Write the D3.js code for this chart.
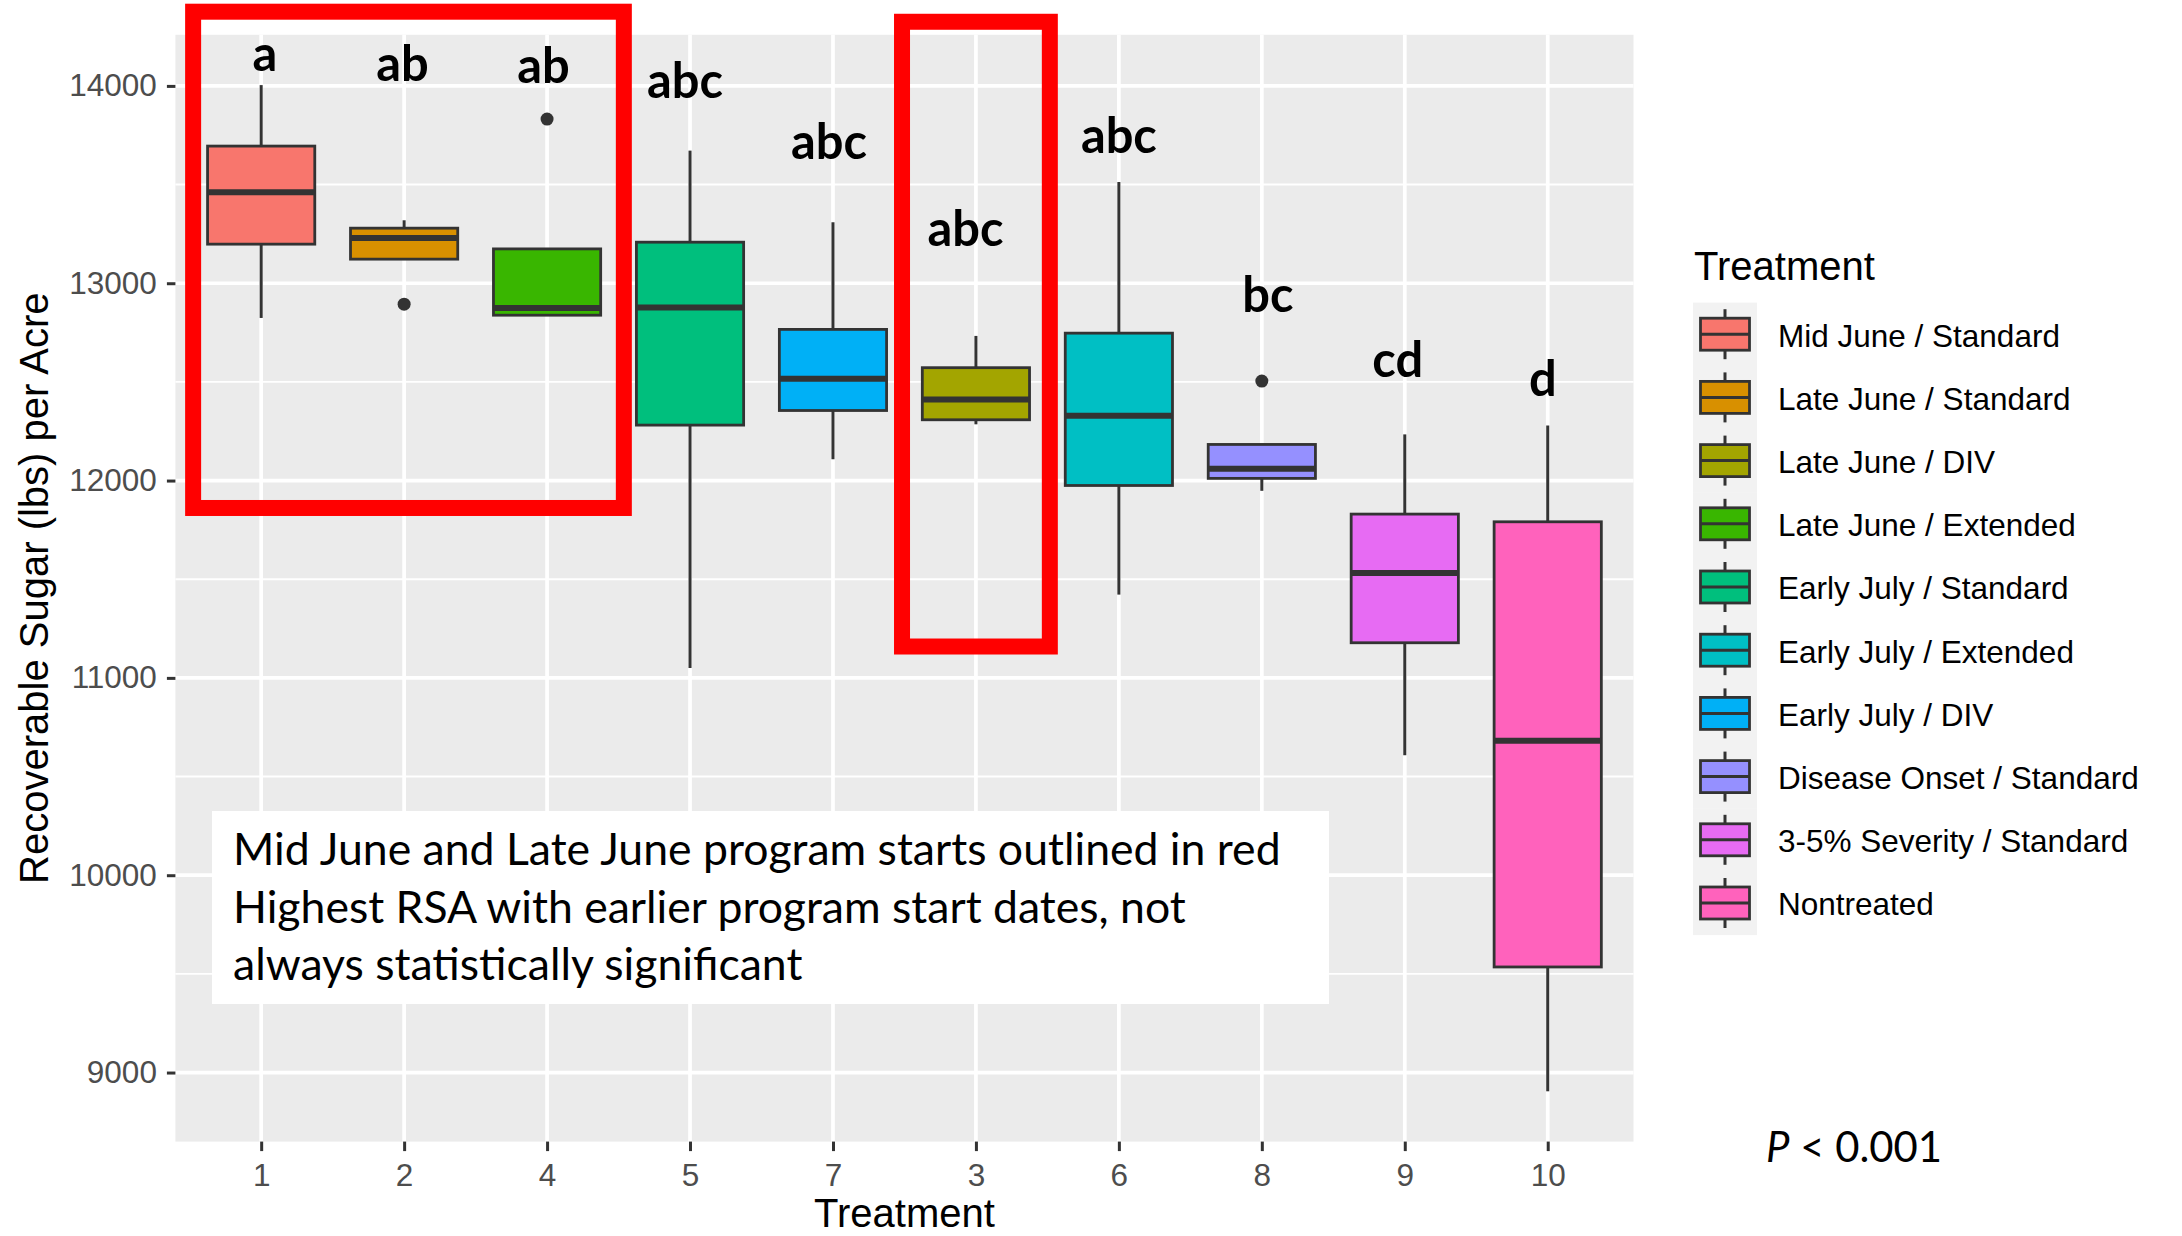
<!DOCTYPE html>
<html>
<head>
<meta charset="utf-8">
<script src="https://cdnjs.cloudflare.com/ajax/libs/d3/7.8.5/d3.min.js"></script>
<style>
  html, body { margin: 0; padding: 0; background: #fff; }
  svg { display: block; }
</style>
</head>
<body>
<svg id="chart" width="2182" height="1236"></svg>
<script>
// ---------------- DATA ----------------
const treatments = ["1", "2", "4", "5", "7", "3", "6", "8", "9", "10"];
const boxFills = ["#F8766D", "#D89000", "#39B600", "#00BF7D", "#00B0F6", "#A3A500", "#00BFC4", "#9590FF", "#E76BF3", "#FF62BC"];
const whiskerLow  = [12824, 13122, 12838, 11050, 12108, 12285, 11422, 11948, 10608, 8905];
const q1Values    = [13198, 13122, 12838, 12281, 12355, 12308, 11975, 12011, 11178, 9535];
const medianValues= [13461, 13229, 12874, 12877, 12516, 12411, 12328, 12060, 11532, 10681];
const q3Values    = [13695, 13279, 13174, 13208, 12766, 12572, 12747, 12183, 11830, 11791];
const whiskerHigh = [14004, 13319, 13174, 13672, 13309, 12733, 13513, 12183, 12234, 12279];
const outlierValues = [[], [12894], [13832], [], [], [], [], [12504], [], []];
const groupLetters = ["a", "ab", "ab", "abc", "abc", "abc", "abc", "bc", "cd", "d"];
const letterBaseValues = [14076, 14026, 14016, 13939, 13631, 13187, 13658, 12853, 12527, 12431];
const yTickValues = [9000, 10000, 11000, 12000, 13000, 14000];
const yMinorValues = [9500, 10500, 11500, 12500, 13500];
const legendLabels = ["Mid June / Standard", "Late June / Standard", "Late June / DIV", "Late June / Extended",
  "Early July / Standard", "Early July / Extended", "Early July / DIV", "Disease Onset / Standard",
  "3-5% Severity / Standard", "Nontreated"];
const legendColors = ["#F8766D", "#D89000", "#A3A500", "#39B600", "#00BF7D", "#00BFC4", "#00B0F6", "#9590FF", "#E76BF3", "#FF62BC"];
const annotationLines = ["Mid June and Late June program starts outlined in red",
  "Highest RSA with earlier program start dates, not",
  "always statistically significant"];
// red highlight frames: category-index span and value span
const redFrames = [
  { fromIdx: -0.476, toIdx: 2.537, top: 14376, bottom: 11861 },
  { fromIdx: 4.483, toIdx: 5.517, top: 14325, bottom: 11159 }
];

// ---------------- LAYOUT ----------------
const svg = d3.select("#chart");
const panel = { left: 175.4, right: 1633.5, top: 34.8, bottom: 1141.6 };
const sansR = "'Liberation Sans', Arial, sans-serif";
const calibriLike = "Lato, 'Open Sans', sans-serif";
const tickFont = 31.5, titleFont = 40;
// hand-placement nudges of the letter labels (pixels), as placed on the slide
const letterNudge = [3.6, -1.6, -3.6, -5, -4, -10.5, 0, 6, -7, -4.8];

const allVals = whiskerLow.concat(whiskerHigh, outlierValues.flat());
const dMin = d3.min(allVals), dMax = d3.max(allVals);
const pad = (dMax - dMin) * 0.05;

const x = d3.scalePoint().domain(treatments).range([panel.left, panel.right]).padding(0.6);
const y = d3.scaleLinear().domain([dMin - pad, dMax + pad]).range([panel.bottom, panel.top]);
const step = x.step();
const boxW = step * 0.75;
const idxX = i => x(treatments[0]) + i * step;

// panel background
svg.append("rect").attr("x", panel.left).attr("y", panel.top)
  .attr("width", panel.right - panel.left).attr("height", panel.bottom - panel.top)
  .attr("fill", "#EBEBEB");

// grid
const grid = svg.append("g");
grid.selectAll(".minor").data(yMinorValues).join("line")
  .attr("x1", panel.left).attr("x2", panel.right)
  .attr("y1", d => y(d)).attr("y2", d => y(d))
  .attr("stroke", "#fff").attr("stroke-width", 1.9);
grid.selectAll(".majorY").data(yTickValues).join("line")
  .attr("x1", panel.left).attr("x2", panel.right)
  .attr("y1", d => y(d)).attr("y2", d => y(d))
  .attr("stroke", "#fff").attr("stroke-width", 3.7);
grid.selectAll(".majorX").data(treatments).join("line")
  .attr("x1", d => x(d)).attr("x2", d => x(d))
  .attr("y1", panel.top).attr("y2", panel.bottom)
  .attr("stroke", "#fff").attr("stroke-width", 3.7);

// axes
const yAxis = d3.axisLeft(y).tickValues(yTickValues).tickSize(8.5).tickPadding(10).tickFormat(d3.format("d"));
const gy = svg.append("g").attr("transform", `translate(${panel.left},0)`).call(yAxis);
gy.select(".domain").remove();
gy.selectAll(".tick line").attr("stroke", "#333").attr("stroke-width", 3);
gy.selectAll(".tick text").attr("font-family", sansR).attr("font-size", tickFont).attr("fill", "#4D4D4D");

const xAxis = d3.axisBottom(x).tickSize(9.5).tickPadding(13);
const gx = svg.append("g").attr("transform", `translate(0,${panel.bottom})`).call(xAxis);
gx.select(".domain").remove();
gx.selectAll(".tick line").attr("stroke", "#333").attr("stroke-width", 3);
gx.selectAll(".tick text").attr("font-family", sansR).attr("font-size", tickFont).attr("fill", "#4D4D4D");

// axis titles
svg.append("text").attr("x", (panel.left + panel.right) / 2).attr("y", 1227)
  .attr("text-anchor", "middle").attr("font-family", sansR).attr("font-size", titleFont)
  .attr("fill", "#000").text("Treatment");
svg.append("text").attr("transform", `translate(48,${(panel.top + panel.bottom) / 2}) rotate(-90)`)
  .attr("text-anchor", "middle").attr("font-family", sansR).attr("font-size", titleFont)
  .attr("fill", "#000").text("Recoverable Sugar (lbs) per Acre");

// boxes
const boxes = svg.append("g").selectAll("g").data(treatments).join("g");
boxes.append("line")
  .attr("x1", d => x(d)).attr("x2", d => x(d))
  .attr("y1", (d, i) => y(q3Values[i])).attr("y2", (d, i) => y(whiskerHigh[i]))
  .attr("stroke", "#333").attr("stroke-width", 3);
boxes.append("line")
  .attr("x1", d => x(d)).attr("x2", d => x(d))
  .attr("y1", (d, i) => y(q1Values[i])).attr("y2", (d, i) => y(whiskerLow[i]))
  .attr("stroke", "#333").attr("stroke-width", 3);
boxes.append("rect")
  .attr("x", d => x(d) - boxW / 2).attr("width", boxW)
  .attr("y", (d, i) => y(q3Values[i]))
  .attr("height", (d, i) => y(q1Values[i]) - y(q3Values[i]))
  .attr("fill", (d, i) => boxFills[i]).attr("stroke", "#333").attr("stroke-width", 2.8);
boxes.append("line")
  .attr("x1", d => x(d) - boxW / 2).attr("x2", d => x(d) + boxW / 2)
  .attr("y1", (d, i) => y(medianValues[i])).attr("y2", (d, i) => y(medianValues[i]))
  .attr("stroke", "#333").attr("stroke-width", 6);
boxes.each(function (d, i) {
  d3.select(this).selectAll("circle").data(outlierValues[i]).join("circle")
    .attr("cx", x(d)).attr("cy", v => y(v)).attr("r", 6.5).attr("fill", "#333");
});

// letters
const letterG = svg.append("g");
const letterTexts = letterG.selectAll("text").data(treatments).join("text")
  .attr("x", (d, i) => x(d) + letterNudge[i]).attr("y", (d, i) => y(letterBaseValues[i]))
  .attr("text-anchor", "middle").attr("font-family", calibriLike).attr("font-weight", 700)
  .attr("font-size", 48).attr("fill", "#000").text((d, i) => groupLetters[i]);
(function () {
  const probe = letterTexts.filter((d, i) => groupLetters[i] === "abc").node();
  const w = probe.getComputedTextLength();
  letterTexts.attr("font-size", 48 * 76 / w);
})();

// red frames
svg.append("g").selectAll("rect").data(redFrames).join("rect")
  .attr("x", d => idxX(d.fromIdx)).attr("width", d => idxX(d.toIdx) - idxX(d.fromIdx))
  .attr("y", d => y(d.top)).attr("height", d => y(d.bottom) - y(d.top))
  .attr("fill", "none").attr("stroke", "#FF0000").attr("stroke-width", 16);

// annotation box
const ann = svg.append("g");
ann.append("rect").attr("x", 212).attr("y", 811).attr("width", 1117).attr("height", 193).attr("fill", "#fff");
const annTexts = ann.selectAll("text").data(annotationLines).join("text")
  .attr("x", 233).attr("y", (d, i) => 865 + i * 57.7)
  .attr("font-family", calibriLike).attr("font-size", 44).attr("fill", "#000").text(d => d);
(function () {
  const w = annTexts.node().getComputedTextLength();
  annTexts.attr("font-size", 44 * 1048 / w);
})();

// P value
const pText = svg.append("text").attr("x", 1766).attr("y", 1162)
  .attr("font-family", calibriLike).attr("font-size", 44).attr("fill", "#000");
pText.append("tspan").attr("font-style", "italic").text("P");
pText.append("tspan").text(" < 0.001");
(function () {
  const w = pText.node().getComputedTextLength();
  pText.attr("font-size", 44 * 176 / w);
})();

// legend
const leg = svg.append("g");
leg.append("text").attr("x", 1694).attr("y", 280).attr("font-family", sansR).attr("font-size", titleFont)
  .attr("fill", "#000").text("Treatment");
const keyTop = 302.6, keyH = 63.2, keyX0 = 1693, keyX1 = 1757;
const keyCx = (keyX0 + keyX1) / 2;
const keys = leg.selectAll(".key").data(legendLabels).join("g")
  .attr("transform", (d, i) => `translate(0,${keyTop + i * keyH})`);
keys.append("rect").attr("x", keyX0).attr("y", 0).attr("width", keyX1 - keyX0).attr("height", keyH + 0.5)
  .attr("fill", "#F2F2F2");
keys.append("line").attr("x1", keyCx).attr("x2", keyCx).attr("y1", keyH / 2 - 25).attr("y2", keyH / 2 + 25)
  .attr("stroke", "#333").attr("stroke-width", 3);
keys.append("rect").attr("x", keyCx - 24.5).attr("width", 49).attr("y", keyH / 2 - 16).attr("height", 32)
  .attr("fill", (d, i) => legendColors[i]).attr("stroke", "#333").attr("stroke-width", 2.8);
keys.append("line").attr("x1", keyCx - 24.5).attr("x2", keyCx + 24.5).attr("y1", keyH / 2).attr("y2", keyH / 2)
  .attr("stroke", "#333").attr("stroke-width", 3);
keys.append("text").attr("x", 1778).attr("y", keyH / 2 + 12.5)
  .attr("font-family", sansR).attr("font-size", tickFont).attr("fill", "#000").text(d => d);
</script>
</body>
</html>
